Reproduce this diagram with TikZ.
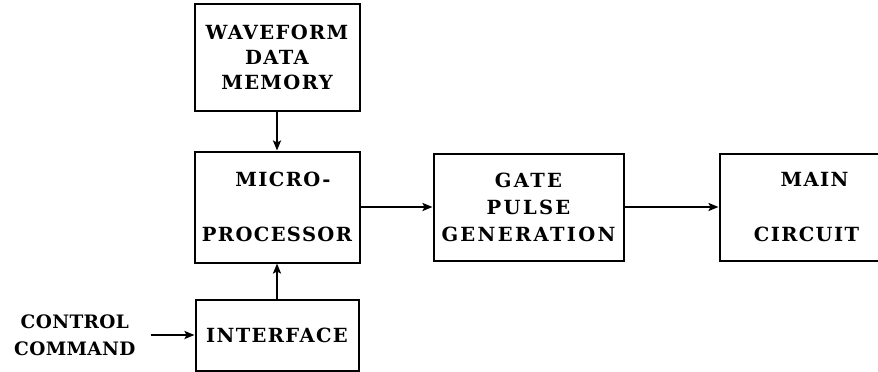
\documentclass[tikz,border=0pt]{standalone}
\usepackage{fontspec}
\setmainfont{DejaVu Serif}[LetterSpace=7]
\usetikzlibrary{positioning, arrows.meta}
\tikzset{
  ->,
  >={Stealth[length=10pt, width=8pt, inset=2pt]},
  every node/.style={font=\bfseries\fontsize{19.5}{25}\selectfont},
  block/.style={draw, align=center, inner sep=2pt},
}

\begin{document}
\begin{tikzpicture}[x=1pt, y=1pt, line width=2pt]
      \useasboundingbox (0,0) rectangle (878,-372);

      \node[block, minimum width=165pt, minimum height=111pt] (mpu) at (277,-207) {\hspace*{12pt}MICRO-\\[30pt]PROCESSOR};
      \node[block, minimum width=165pt, minimum height=107pt, above=39pt of mpu] (mem) {WAVEFORM\\DATA\\MEMORY};
      \node[block, minimum width=163pt, minimum height=71pt, below=35pt of mpu] (intf) {INTERFACE};
      \node[block, minimum width=190pt, minimum height=107pt, right=72pt of mpu,
            font=\bfseries\fontsize{19.5}{27}\selectfont\addfontfeature{LetterSpace=12}] (gate) {GATE\\PULSE\\GENERATION};
      \node[block, minimum width=160pt, minimum height=107pt, right=94pt of gate] (main) {\hspace*{30pt}MAIN\\[30pt]\hspace*{14pt}CIRCUIT};
      \node[align=center, inner xsep=14pt, left=44pt of intf,
            font=\bfseries\fontsize{18.5}{27}\selectfont\addfontfeature{LetterSpace=2}] (ctrl) {CONTROL\\COMMAND};

      \draw (mem)  -- (mpu);
      \draw (intf) -- (mpu);
      \draw (mpu)  -- (gate);
      \draw (gate) -- (main);
      \draw (ctrl) -- (intf);
\end{tikzpicture}
\end{document}
